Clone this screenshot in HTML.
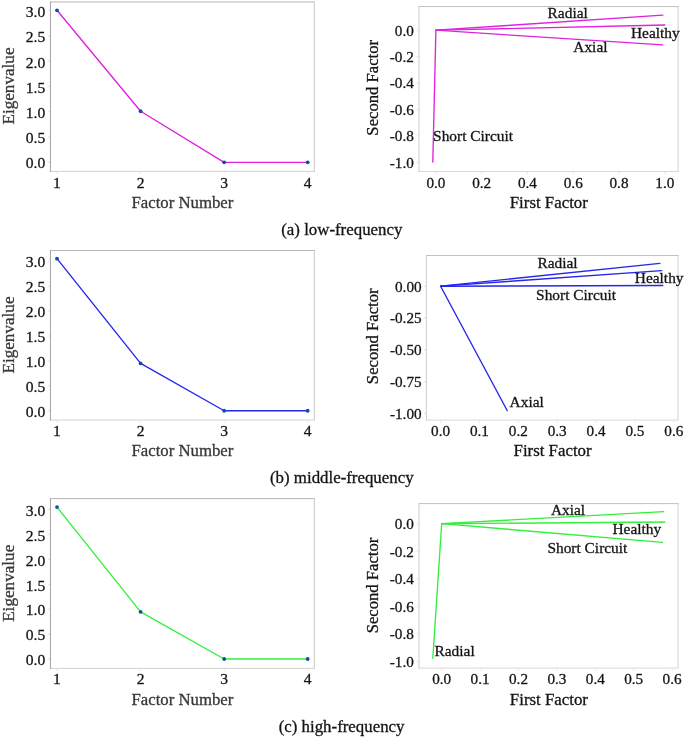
<!DOCTYPE html>
<html><head><meta charset="utf-8"><title>Factor analysis</title>
<style>html,body{margin:0;padding:0;background:#fff;}body{width:685px;height:737px;overflow:hidden;}svg{display:block;font-family:"Liberation Serif",serif;filter:blur(0.3px);}text{stroke-width:0.3px;}</style>
</head><body>
<svg width="685" height="737" viewBox="0 0 685 737">
<rect width="685" height="737" fill="#fff"/>
<rect x="50.45" y="1.95" width="263.85" height="169.45" fill="#fff"/>
<line x1="49.95" y1="1.95" x2="314.80" y2="1.95" stroke="#b6b6b6" stroke-width="1"/>
<line x1="49.95" y1="171.4" x2="314.80" y2="171.4" stroke="#d2d2d2" stroke-width="1"/>
<line x1="314.3" y1="1.95" x2="314.3" y2="171.4" stroke="#c8c8c8" stroke-width="1"/>
<line x1="50.45" y1="1.45" x2="50.45" y2="171.90" stroke="#a4a4a4" stroke-width="1"/>
<line x1="48.05" y1="162.30" x2="49.95" y2="162.30" stroke="#dcdcdc" stroke-width="0.8"/>
<text x="45.30" y="168.45" font-size="15.6" text-anchor="end" fill="#141414" stroke="#141414">0.0</text>
<line x1="48.05" y1="136.97" x2="49.95" y2="136.97" stroke="#dcdcdc" stroke-width="0.8"/>
<text x="45.30" y="143.22" font-size="15.6" text-anchor="end" fill="#141414" stroke="#141414">0.5</text>
<line x1="48.05" y1="111.63" x2="49.95" y2="111.63" stroke="#dcdcdc" stroke-width="0.8"/>
<text x="45.30" y="117.98" font-size="15.6" text-anchor="end" fill="#141414" stroke="#141414">1.0</text>
<line x1="48.05" y1="86.30" x2="49.95" y2="86.30" stroke="#dcdcdc" stroke-width="0.8"/>
<text x="45.30" y="92.75" font-size="15.6" text-anchor="end" fill="#141414" stroke="#141414">1.5</text>
<line x1="48.05" y1="60.97" x2="49.95" y2="60.97" stroke="#dcdcdc" stroke-width="0.8"/>
<text x="45.30" y="67.52" font-size="15.6" text-anchor="end" fill="#141414" stroke="#141414">2.0</text>
<line x1="48.05" y1="35.63" x2="49.95" y2="35.63" stroke="#dcdcdc" stroke-width="0.8"/>
<text x="45.30" y="42.28" font-size="15.6" text-anchor="end" fill="#141414" stroke="#141414">2.5</text>
<line x1="48.05" y1="10.30" x2="49.95" y2="10.30" stroke="#dcdcdc" stroke-width="0.8"/>
<text x="45.30" y="17.05" font-size="15.6" text-anchor="end" fill="#141414" stroke="#141414">3.0</text>
<line x1="57.0" y1="171.90" x2="57.0" y2="173.80" stroke="#dcdcdc" stroke-width="0.8"/>
<text x="57.00" y="187.90" font-size="15.6" text-anchor="middle" fill="#141414" stroke="#141414">1</text>
<line x1="140.6" y1="171.90" x2="140.6" y2="173.80" stroke="#dcdcdc" stroke-width="0.8"/>
<text x="140.60" y="187.90" font-size="15.6" text-anchor="middle" fill="#141414" stroke="#141414">2</text>
<line x1="224.15" y1="171.90" x2="224.15" y2="173.80" stroke="#dcdcdc" stroke-width="0.8"/>
<text x="224.15" y="187.90" font-size="15.6" text-anchor="middle" fill="#141414" stroke="#141414">3</text>
<line x1="307.7" y1="171.90" x2="307.7" y2="173.80" stroke="#dcdcdc" stroke-width="0.8"/>
<text x="307.70" y="187.90" font-size="15.6" text-anchor="middle" fill="#141414" stroke="#141414">4</text>
<polyline points="57.00,10.30 140.60,111.23 224.15,162.30 307.70,162.30" fill="none" stroke="#de22de" stroke-width="1.35" stroke-linejoin="round"/>
<circle cx="57.00" cy="10.30" r="1.9" fill="#0b4fa6"/>
<circle cx="140.60" cy="111.23" r="1.9" fill="#0b4fa6"/>
<circle cx="224.15" cy="162.30" r="1.9" fill="#0b4fa6"/>
<circle cx="307.70" cy="162.30" r="1.9" fill="#0b4fa6"/>
<text x="182.40" y="208.30" font-size="16.75" text-anchor="middle" fill="#383838" stroke="#383838">Factor Number</text>
<text transform="translate(14.00,86.00) rotate(-90)" font-size="17.15" text-anchor="middle" fill="#383838" stroke="#383838">Eigenvalue</text>
<rect x="419.0" y="6.55" width="259.10" height="164.95" fill="#fff"/>
<line x1="418.50" y1="6.55" x2="678.60" y2="6.55" stroke="#c0c0c0" stroke-width="1"/>
<line x1="418.50" y1="171.5" x2="678.60" y2="171.5" stroke="#d8d8d8" stroke-width="1"/>
<line x1="678.1" y1="6.55" x2="678.1" y2="171.5" stroke="#d2d2d2" stroke-width="1"/>
<line x1="419.0" y1="6.05" x2="419.0" y2="172.00" stroke="#cdcdcd" stroke-width="1"/>
<line x1="416.60" y1="30.20" x2="418.50" y2="30.20" stroke="#dcdcdc" stroke-width="0.8"/>
<text x="413.80" y="35.55" font-size="15.2" text-anchor="end" fill="#141414" stroke="#141414">0.0</text>
<line x1="416.60" y1="56.64" x2="418.50" y2="56.64" stroke="#dcdcdc" stroke-width="0.8"/>
<text x="413.80" y="61.99" font-size="15.2" text-anchor="end" fill="#141414" stroke="#141414">-0.2</text>
<line x1="416.60" y1="83.08" x2="418.50" y2="83.08" stroke="#dcdcdc" stroke-width="0.8"/>
<text x="413.80" y="88.43" font-size="15.2" text-anchor="end" fill="#141414" stroke="#141414">-0.4</text>
<line x1="416.60" y1="109.52" x2="418.50" y2="109.52" stroke="#dcdcdc" stroke-width="0.8"/>
<text x="413.80" y="114.87" font-size="15.2" text-anchor="end" fill="#141414" stroke="#141414">-0.6</text>
<line x1="416.60" y1="135.96" x2="418.50" y2="135.96" stroke="#dcdcdc" stroke-width="0.8"/>
<text x="413.80" y="141.31" font-size="15.2" text-anchor="end" fill="#141414" stroke="#141414">-0.8</text>
<line x1="416.60" y1="162.40" x2="418.50" y2="162.40" stroke="#dcdcdc" stroke-width="0.8"/>
<text x="413.80" y="167.75" font-size="15.2" text-anchor="end" fill="#141414" stroke="#141414">-1.0</text>
<line x1="435.90" y1="172.00" x2="435.90" y2="173.90" stroke="#dcdcdc" stroke-width="0.8"/>
<text x="435.90" y="187.70" font-size="15.2" text-anchor="middle" fill="#141414" stroke="#141414">0.0</text>
<line x1="481.68" y1="172.00" x2="481.68" y2="173.90" stroke="#dcdcdc" stroke-width="0.8"/>
<text x="481.68" y="187.70" font-size="15.2" text-anchor="middle" fill="#141414" stroke="#141414">0.2</text>
<line x1="527.46" y1="172.00" x2="527.46" y2="173.90" stroke="#dcdcdc" stroke-width="0.8"/>
<text x="527.46" y="187.70" font-size="15.2" text-anchor="middle" fill="#141414" stroke="#141414">0.4</text>
<line x1="573.24" y1="172.00" x2="573.24" y2="173.90" stroke="#dcdcdc" stroke-width="0.8"/>
<text x="573.24" y="187.70" font-size="15.2" text-anchor="middle" fill="#141414" stroke="#141414">0.6</text>
<line x1="619.02" y1="172.00" x2="619.02" y2="173.90" stroke="#dcdcdc" stroke-width="0.8"/>
<text x="619.02" y="187.70" font-size="15.2" text-anchor="middle" fill="#141414" stroke="#141414">0.8</text>
<line x1="664.80" y1="172.00" x2="664.80" y2="173.90" stroke="#dcdcdc" stroke-width="0.8"/>
<text x="664.80" y="187.70" font-size="15.2" text-anchor="middle" fill="#141414" stroke="#141414">1.0</text>
<line x1="435.90" y1="30.20" x2="662.80" y2="15.10" stroke="#de22de" stroke-width="1.35" stroke-linecap="round"/>
<line x1="435.90" y1="30.20" x2="664.80" y2="25.00" stroke="#de22de" stroke-width="1.35" stroke-linecap="round"/>
<line x1="435.90" y1="30.20" x2="662.80" y2="44.90" stroke="#de22de" stroke-width="1.35" stroke-linecap="round"/>
<line x1="435.90" y1="30.20" x2="432.80" y2="162.00" stroke="#de22de" stroke-width="1.35" stroke-linecap="round"/>
<text x="547.60" y="18.20" font-size="15.4" text-anchor="start" fill="#141414" stroke="#141414">Radial</text>
<text x="631.00" y="38.00" font-size="15.4" text-anchor="start" fill="#141414" stroke="#141414">Healthy</text>
<text x="573.30" y="52.10" font-size="15.4" text-anchor="start" fill="#141414" stroke="#141414">Axial</text>
<text x="433.10" y="140.90" font-size="15.4" text-anchor="start" fill="#141414" stroke="#141414">Short Circuit</text>
<text x="548.80" y="208.30" font-size="16.85" text-anchor="middle" fill="#141414" stroke="#141414">First Factor</text>
<text transform="translate(377.60,87.80) rotate(-90)" font-size="16.65" text-anchor="middle" fill="#141414" stroke="#141414">Second Factor</text>
<text x="341.80" y="234.90" font-size="16.85" text-anchor="middle" fill="#141414" stroke="#141414">(a) low-frequency</text>
<rect x="50.45" y="250.5" width="263.85" height="169.55" fill="#fff"/>
<line x1="49.95" y1="250.5" x2="314.80" y2="250.5" stroke="#b6b6b6" stroke-width="1"/>
<line x1="49.95" y1="420.05" x2="314.80" y2="420.05" stroke="#d2d2d2" stroke-width="1"/>
<line x1="314.3" y1="250.5" x2="314.3" y2="420.05" stroke="#c8c8c8" stroke-width="1"/>
<line x1="50.45" y1="250.00" x2="50.45" y2="420.55" stroke="#a4a4a4" stroke-width="1"/>
<line x1="48.05" y1="410.75" x2="49.95" y2="410.75" stroke="#dcdcdc" stroke-width="0.8"/>
<text x="45.30" y="416.75" font-size="15.6" text-anchor="end" fill="#141414" stroke="#141414">0.0</text>
<line x1="48.05" y1="385.84" x2="49.95" y2="385.84" stroke="#dcdcdc" stroke-width="0.8"/>
<text x="45.30" y="391.83" font-size="15.6" text-anchor="end" fill="#141414" stroke="#141414">0.5</text>
<line x1="48.05" y1="360.93" x2="49.95" y2="360.93" stroke="#dcdcdc" stroke-width="0.8"/>
<text x="45.30" y="366.90" font-size="15.6" text-anchor="end" fill="#141414" stroke="#141414">1.0</text>
<line x1="48.05" y1="336.02" x2="49.95" y2="336.02" stroke="#dcdcdc" stroke-width="0.8"/>
<text x="45.30" y="341.97" font-size="15.6" text-anchor="end" fill="#141414" stroke="#141414">1.5</text>
<line x1="48.05" y1="311.12" x2="49.95" y2="311.12" stroke="#dcdcdc" stroke-width="0.8"/>
<text x="45.30" y="317.05" font-size="15.6" text-anchor="end" fill="#141414" stroke="#141414">2.0</text>
<line x1="48.05" y1="286.21" x2="49.95" y2="286.21" stroke="#dcdcdc" stroke-width="0.8"/>
<text x="45.30" y="292.13" font-size="15.6" text-anchor="end" fill="#141414" stroke="#141414">2.5</text>
<line x1="48.05" y1="261.30" x2="49.95" y2="261.30" stroke="#dcdcdc" stroke-width="0.8"/>
<text x="45.30" y="267.20" font-size="15.6" text-anchor="end" fill="#141414" stroke="#141414">3.0</text>
<line x1="57.0" y1="420.55" x2="57.0" y2="422.45" stroke="#dcdcdc" stroke-width="0.8"/>
<text x="57.00" y="436.20" font-size="15.6" text-anchor="middle" fill="#141414" stroke="#141414">1</text>
<line x1="140.6" y1="420.55" x2="140.6" y2="422.45" stroke="#dcdcdc" stroke-width="0.8"/>
<text x="140.60" y="436.20" font-size="15.6" text-anchor="middle" fill="#141414" stroke="#141414">2</text>
<line x1="224.15" y1="420.55" x2="224.15" y2="422.45" stroke="#dcdcdc" stroke-width="0.8"/>
<text x="224.15" y="436.20" font-size="15.6" text-anchor="middle" fill="#141414" stroke="#141414">3</text>
<line x1="307.7" y1="420.55" x2="307.7" y2="422.45" stroke="#dcdcdc" stroke-width="0.8"/>
<text x="307.70" y="436.20" font-size="15.6" text-anchor="middle" fill="#141414" stroke="#141414">4</text>
<polyline points="57.00,258.66 140.60,363.42 224.15,410.75 307.70,410.75" fill="none" stroke="#2626ec" stroke-width="1.35" stroke-linejoin="round"/>
<circle cx="57.00" cy="258.66" r="1.9" fill="#0b4fa6"/>
<circle cx="140.60" cy="363.42" r="1.9" fill="#0b4fa6"/>
<circle cx="224.15" cy="410.75" r="1.9" fill="#0b4fa6"/>
<circle cx="307.70" cy="410.75" r="1.9" fill="#0b4fa6"/>
<text x="182.40" y="456.40" font-size="16.75" text-anchor="middle" fill="#383838" stroke="#383838">Factor Number</text>
<text transform="translate(14.00,335.00) rotate(-90)" font-size="17.15" text-anchor="middle" fill="#383838" stroke="#383838">Eigenvalue</text>
<rect x="426.4" y="255.5" width="251.65" height="164.60" fill="#fff"/>
<line x1="425.90" y1="255.5" x2="678.55" y2="255.5" stroke="#c0c0c0" stroke-width="1"/>
<line x1="425.90" y1="420.1" x2="678.55" y2="420.1" stroke="#d8d8d8" stroke-width="1"/>
<line x1="678.05" y1="255.5" x2="678.05" y2="420.1" stroke="#d2d2d2" stroke-width="1"/>
<line x1="426.4" y1="255.00" x2="426.4" y2="420.60" stroke="#cdcdcd" stroke-width="1"/>
<line x1="424.00" y1="286.20" x2="425.90" y2="286.20" stroke="#dcdcdc" stroke-width="0.8"/>
<text x="421.60" y="291.55" font-size="15.2" text-anchor="end" fill="#141414" stroke="#141414">0.00</text>
<line x1="424.00" y1="318.00" x2="425.90" y2="318.00" stroke="#dcdcdc" stroke-width="0.8"/>
<text x="421.60" y="323.35" font-size="15.2" text-anchor="end" fill="#141414" stroke="#141414">-0.25</text>
<line x1="424.00" y1="349.80" x2="425.90" y2="349.80" stroke="#dcdcdc" stroke-width="0.8"/>
<text x="421.60" y="355.15" font-size="15.2" text-anchor="end" fill="#141414" stroke="#141414">-0.50</text>
<line x1="424.00" y1="381.60" x2="425.90" y2="381.60" stroke="#dcdcdc" stroke-width="0.8"/>
<text x="421.60" y="386.95" font-size="15.2" text-anchor="end" fill="#141414" stroke="#141414">-0.75</text>
<line x1="424.00" y1="413.40" x2="425.90" y2="413.40" stroke="#dcdcdc" stroke-width="0.8"/>
<text x="421.60" y="418.75" font-size="15.2" text-anchor="end" fill="#141414" stroke="#141414">-1.00</text>
<line x1="440.60" y1="420.60" x2="440.60" y2="422.50" stroke="#dcdcdc" stroke-width="0.8"/>
<text x="440.60" y="435.80" font-size="15.2" text-anchor="middle" fill="#141414" stroke="#141414">0.0</text>
<line x1="479.47" y1="420.60" x2="479.47" y2="422.50" stroke="#dcdcdc" stroke-width="0.8"/>
<text x="479.47" y="435.80" font-size="15.2" text-anchor="middle" fill="#141414" stroke="#141414">0.1</text>
<line x1="518.34" y1="420.60" x2="518.34" y2="422.50" stroke="#dcdcdc" stroke-width="0.8"/>
<text x="518.34" y="435.80" font-size="15.2" text-anchor="middle" fill="#141414" stroke="#141414">0.2</text>
<line x1="557.21" y1="420.60" x2="557.21" y2="422.50" stroke="#dcdcdc" stroke-width="0.8"/>
<text x="557.21" y="435.80" font-size="15.2" text-anchor="middle" fill="#141414" stroke="#141414">0.3</text>
<line x1="596.08" y1="420.60" x2="596.08" y2="422.50" stroke="#dcdcdc" stroke-width="0.8"/>
<text x="596.08" y="435.80" font-size="15.2" text-anchor="middle" fill="#141414" stroke="#141414">0.4</text>
<line x1="634.95" y1="420.60" x2="634.95" y2="422.50" stroke="#dcdcdc" stroke-width="0.8"/>
<text x="634.95" y="435.80" font-size="15.2" text-anchor="middle" fill="#141414" stroke="#141414">0.5</text>
<line x1="673.82" y1="420.60" x2="673.82" y2="422.50" stroke="#dcdcdc" stroke-width="0.8"/>
<text x="673.82" y="435.80" font-size="15.2" text-anchor="middle" fill="#141414" stroke="#141414">0.6</text>
<line x1="440.60" y1="286.20" x2="659.85" y2="263.40" stroke="#2626ec" stroke-width="1.35" stroke-linecap="round"/>
<line x1="440.60" y1="286.20" x2="661.60" y2="270.65" stroke="#2626ec" stroke-width="1.35" stroke-linecap="round"/>
<line x1="440.60" y1="286.20" x2="662.80" y2="285.50" stroke="#2626ec" stroke-width="1.35" stroke-linecap="round"/>
<line x1="440.60" y1="286.20" x2="507.30" y2="410.70" stroke="#2626ec" stroke-width="1.35" stroke-linecap="round"/>
<text x="537.40" y="267.60" font-size="15.4" text-anchor="start" fill="#141414" stroke="#141414">Radial</text>
<text x="634.80" y="283.00" font-size="15.4" text-anchor="start" fill="#141414" stroke="#141414">Healthy</text>
<text x="536.10" y="300.00" font-size="15.4" text-anchor="start" fill="#141414" stroke="#141414">Short Circuit</text>
<text x="509.60" y="407.10" font-size="15.4" text-anchor="start" fill="#141414" stroke="#141414">Axial</text>
<text x="552.60" y="456.20" font-size="16.85" text-anchor="middle" fill="#141414" stroke="#141414">First Factor</text>
<text transform="translate(377.60,336.30) rotate(-90)" font-size="16.65" text-anchor="middle" fill="#141414" stroke="#141414">Second Factor</text>
<text x="341.80" y="483.40" font-size="16.85" text-anchor="middle" fill="#141414" stroke="#141414">(b) middle-frequency</text>
<rect x="50.45" y="498.6" width="263.85" height="169.80" fill="#fff"/>
<line x1="49.95" y1="498.6" x2="314.80" y2="498.6" stroke="#b6b6b6" stroke-width="1"/>
<line x1="49.95" y1="668.4" x2="314.80" y2="668.4" stroke="#d2d2d2" stroke-width="1"/>
<line x1="314.3" y1="498.6" x2="314.3" y2="668.4" stroke="#c8c8c8" stroke-width="1"/>
<line x1="50.45" y1="498.10" x2="50.45" y2="668.90" stroke="#a4a4a4" stroke-width="1"/>
<line x1="48.05" y1="659.00" x2="49.95" y2="659.00" stroke="#dcdcdc" stroke-width="0.8"/>
<text x="45.30" y="665.10" font-size="15.6" text-anchor="end" fill="#141414" stroke="#141414">0.0</text>
<line x1="48.05" y1="634.07" x2="49.95" y2="634.07" stroke="#dcdcdc" stroke-width="0.8"/>
<text x="45.30" y="640.28" font-size="15.6" text-anchor="end" fill="#141414" stroke="#141414">0.5</text>
<line x1="48.05" y1="609.13" x2="49.95" y2="609.13" stroke="#dcdcdc" stroke-width="0.8"/>
<text x="45.30" y="615.47" font-size="15.6" text-anchor="end" fill="#141414" stroke="#141414">1.0</text>
<line x1="48.05" y1="584.20" x2="49.95" y2="584.20" stroke="#dcdcdc" stroke-width="0.8"/>
<text x="45.30" y="590.65" font-size="15.6" text-anchor="end" fill="#141414" stroke="#141414">1.5</text>
<line x1="48.05" y1="559.27" x2="49.95" y2="559.27" stroke="#dcdcdc" stroke-width="0.8"/>
<text x="45.30" y="565.83" font-size="15.6" text-anchor="end" fill="#141414" stroke="#141414">2.0</text>
<line x1="48.05" y1="534.33" x2="49.95" y2="534.33" stroke="#dcdcdc" stroke-width="0.8"/>
<text x="45.30" y="541.02" font-size="15.6" text-anchor="end" fill="#141414" stroke="#141414">2.5</text>
<line x1="48.05" y1="509.40" x2="49.95" y2="509.40" stroke="#dcdcdc" stroke-width="0.8"/>
<text x="45.30" y="516.20" font-size="15.6" text-anchor="end" fill="#141414" stroke="#141414">3.0</text>
<line x1="57.0" y1="668.90" x2="57.0" y2="670.80" stroke="#dcdcdc" stroke-width="0.8"/>
<text x="57.00" y="684.10" font-size="15.6" text-anchor="middle" fill="#141414" stroke="#141414">1</text>
<line x1="140.6" y1="668.90" x2="140.6" y2="670.80" stroke="#dcdcdc" stroke-width="0.8"/>
<text x="140.60" y="684.10" font-size="15.6" text-anchor="middle" fill="#141414" stroke="#141414">2</text>
<line x1="224.15" y1="668.90" x2="224.15" y2="670.80" stroke="#dcdcdc" stroke-width="0.8"/>
<text x="224.15" y="684.10" font-size="15.6" text-anchor="middle" fill="#141414" stroke="#141414">3</text>
<line x1="307.7" y1="668.90" x2="307.7" y2="670.80" stroke="#dcdcdc" stroke-width="0.8"/>
<text x="307.70" y="684.10" font-size="15.6" text-anchor="middle" fill="#141414" stroke="#141414">4</text>
<polyline points="57.00,507.11 140.60,611.83 224.15,659.00 307.70,659.00" fill="none" stroke="#33f03c" stroke-width="1.35" stroke-linejoin="round"/>
<circle cx="57.00" cy="507.11" r="1.9" fill="#0b4fa6"/>
<circle cx="140.60" cy="611.83" r="1.9" fill="#0b4fa6"/>
<circle cx="224.15" cy="659.00" r="1.9" fill="#0b4fa6"/>
<circle cx="307.70" cy="659.00" r="1.9" fill="#0b4fa6"/>
<text x="182.40" y="704.80" font-size="16.75" text-anchor="middle" fill="#383838" stroke="#383838">Factor Number</text>
<text transform="translate(14.00,583.30) rotate(-90)" font-size="17.15" text-anchor="middle" fill="#383838" stroke="#383838">Eigenvalue</text>
<rect x="419.0" y="503.6" width="259.05" height="164.50" fill="#fff"/>
<line x1="418.50" y1="503.6" x2="678.55" y2="503.6" stroke="#c0c0c0" stroke-width="1"/>
<line x1="418.50" y1="668.1" x2="678.55" y2="668.1" stroke="#d8d8d8" stroke-width="1"/>
<line x1="678.05" y1="503.6" x2="678.05" y2="668.1" stroke="#d2d2d2" stroke-width="1"/>
<line x1="419.0" y1="503.10" x2="419.0" y2="668.60" stroke="#cdcdcd" stroke-width="1"/>
<line x1="416.60" y1="523.70" x2="418.50" y2="523.70" stroke="#dcdcdc" stroke-width="0.8"/>
<text x="413.80" y="529.05" font-size="15.2" text-anchor="end" fill="#141414" stroke="#141414">0.0</text>
<line x1="416.60" y1="551.24" x2="418.50" y2="551.24" stroke="#dcdcdc" stroke-width="0.8"/>
<text x="413.80" y="556.59" font-size="15.2" text-anchor="end" fill="#141414" stroke="#141414">-0.2</text>
<line x1="416.60" y1="578.78" x2="418.50" y2="578.78" stroke="#dcdcdc" stroke-width="0.8"/>
<text x="413.80" y="584.13" font-size="15.2" text-anchor="end" fill="#141414" stroke="#141414">-0.4</text>
<line x1="416.60" y1="606.32" x2="418.50" y2="606.32" stroke="#dcdcdc" stroke-width="0.8"/>
<text x="413.80" y="611.67" font-size="15.2" text-anchor="end" fill="#141414" stroke="#141414">-0.6</text>
<line x1="416.60" y1="633.86" x2="418.50" y2="633.86" stroke="#dcdcdc" stroke-width="0.8"/>
<text x="413.80" y="639.21" font-size="15.2" text-anchor="end" fill="#141414" stroke="#141414">-0.8</text>
<line x1="416.60" y1="661.40" x2="418.50" y2="661.40" stroke="#dcdcdc" stroke-width="0.8"/>
<text x="413.80" y="666.75" font-size="15.2" text-anchor="end" fill="#141414" stroke="#141414">-1.0</text>
<line x1="441.70" y1="668.60" x2="441.70" y2="670.50" stroke="#dcdcdc" stroke-width="0.8"/>
<text x="441.70" y="684.00" font-size="15.2" text-anchor="middle" fill="#141414" stroke="#141414">0.0</text>
<line x1="480.10" y1="668.60" x2="480.10" y2="670.50" stroke="#dcdcdc" stroke-width="0.8"/>
<text x="480.10" y="684.00" font-size="15.2" text-anchor="middle" fill="#141414" stroke="#141414">0.1</text>
<line x1="518.50" y1="668.60" x2="518.50" y2="670.50" stroke="#dcdcdc" stroke-width="0.8"/>
<text x="518.50" y="684.00" font-size="15.2" text-anchor="middle" fill="#141414" stroke="#141414">0.2</text>
<line x1="556.90" y1="668.60" x2="556.90" y2="670.50" stroke="#dcdcdc" stroke-width="0.8"/>
<text x="556.90" y="684.00" font-size="15.2" text-anchor="middle" fill="#141414" stroke="#141414">0.3</text>
<line x1="595.30" y1="668.60" x2="595.30" y2="670.50" stroke="#dcdcdc" stroke-width="0.8"/>
<text x="595.30" y="684.00" font-size="15.2" text-anchor="middle" fill="#141414" stroke="#141414">0.4</text>
<line x1="633.70" y1="668.60" x2="633.70" y2="670.50" stroke="#dcdcdc" stroke-width="0.8"/>
<text x="633.70" y="684.00" font-size="15.2" text-anchor="middle" fill="#141414" stroke="#141414">0.5</text>
<line x1="672.10" y1="668.60" x2="672.10" y2="670.50" stroke="#dcdcdc" stroke-width="0.8"/>
<text x="672.10" y="684.00" font-size="15.2" text-anchor="middle" fill="#141414" stroke="#141414">0.6</text>
<line x1="441.70" y1="523.70" x2="663.70" y2="511.70" stroke="#33f03c" stroke-width="1.35" stroke-linecap="round"/>
<line x1="441.70" y1="523.70" x2="664.80" y2="522.00" stroke="#33f03c" stroke-width="1.35" stroke-linecap="round"/>
<line x1="441.70" y1="523.70" x2="662.60" y2="542.30" stroke="#33f03c" stroke-width="1.35" stroke-linecap="round"/>
<line x1="441.70" y1="523.70" x2="432.80" y2="658.40" stroke="#33f03c" stroke-width="1.35" stroke-linecap="round"/>
<text x="550.90" y="514.50" font-size="15.4" text-anchor="start" fill="#141414" stroke="#141414">Axial</text>
<text x="612.50" y="533.80" font-size="15.4" text-anchor="start" fill="#141414" stroke="#141414">Healthy</text>
<text x="547.40" y="553.20" font-size="15.4" text-anchor="start" fill="#141414" stroke="#141414">Short Circuit</text>
<text x="434.50" y="655.60" font-size="15.4" text-anchor="start" fill="#141414" stroke="#141414">Radial</text>
<text x="548.90" y="704.70" font-size="16.85" text-anchor="middle" fill="#141414" stroke="#141414">First Factor</text>
<text transform="translate(377.60,585.50) rotate(-90)" font-size="16.65" text-anchor="middle" fill="#141414" stroke="#141414">Second Factor</text>
<text x="341.60" y="731.90" font-size="16.85" text-anchor="middle" fill="#141414" stroke="#141414">(c) high-frequency</text>
</svg></body></html>
